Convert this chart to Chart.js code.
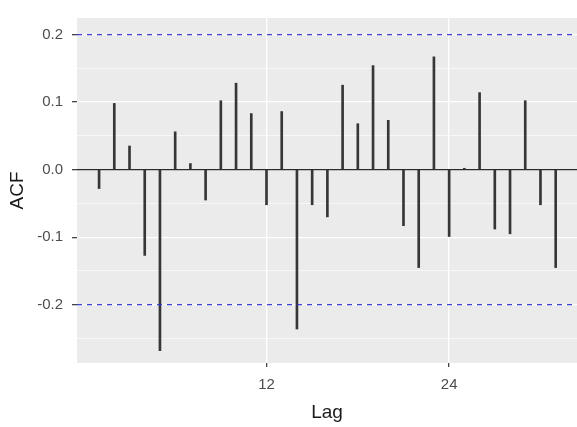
<!DOCTYPE html>
<html>
<head>
<meta charset="utf-8">
<script src="https://cdn.jsdelivr.net/npm/chart.js@4"></script>
<style>
  html, body { margin: 0; padding: 0; background: #ffffff; overflow: hidden; }
  #wrap { width: 577px; height: 427px; }
</style>
</head>
<body>
<div id="wrap"><canvas id="acfChart" width="577" height="427"></canvas></div>
<script>
// ACF values
const lags = [1, 2, 3, 4, 5, 6, 7, 8, 9, 10, 11, 12, 13, 14, 15, 16,
              17, 18, 19, 20, 21, 22, 23, 24, 25, 26, 27, 28, 29, 30, 31];
const acfValues = [-0.028, 0.098, 0.035, -0.127, -0.268, 0.056, 0.009, -0.045,
                   0.102, 0.128, 0.083, -0.052, 0.086, -0.236, -0.052, -0.070,
                   0.125, 0.068, 0.154, 0.073, -0.083, -0.145, 0.167, -0.099,
                   0.002, 0.114, -0.088, -0.095, 0.102, -0.052, -0.145];
const ciLimit = 0.2;

// axis ticks
const xTicks = [12, 24];
const xTickLabels = ["12", "24"];
const yMajor = [-0.2, -0.1, 0.0, 0.1, 0.2];
const yTickLabels = ["-0.2", "-0.1", "0.0", "0.1", "0.2"];
const yMinor = [-0.25, -0.15, -0.05, 0.05, 0.15];

const fontFamily = "'Liberation Sans', Arial, sans-serif";

function isMajor(v) {
    return yMajor.some(m => Math.abs(m - v) < 1e-9);
}

// grey panel behind the plot
const panelBackground = {
    id: "panelBackground",
    beforeDraw(chart) {
        const { ctx, chartArea } = chart;
        ctx.save();
        ctx.fillStyle = "#ffffff";
        ctx.fillRect(0, 0, chart.width, chart.height);
        ctx.fillStyle = "#ebebeb";
        ctx.fillRect(chartArea.left, chartArea.top, chartArea.right - chartArea.left, chartArea.bottom - chartArea.top);
        ctx.restore();
    }
};

// zero line and the dashed confidence bounds
const refLines = {
    id: "refLines",
    beforeDatasetsDraw(chart) {
        const { ctx, chartArea, scales } = chart;
        const y0 = scales.y.getPixelForValue(0);
        ctx.save();
        ctx.strokeStyle = "#2b2b2b";
        ctx.lineWidth = 1.3;
        ctx.beginPath();
        ctx.moveTo(chartArea.left, y0);
        ctx.lineTo(chartArea.right, y0);
        ctx.stroke();
        ctx.restore();
    },
    afterDatasetsDraw(chart) {
        const { ctx, chartArea, scales } = chart;
        ctx.save();
        ctx.strokeStyle = "rgba(45, 45, 210, 0.9)";
        ctx.lineWidth = 1.2;
        ctx.setLineDash([5, 5]);
        [ciLimit, -ciLimit].forEach(v => {
            const y = scales.y.getPixelForValue(v);
            ctx.beginPath();
            ctx.moveTo(chartArea.left, y);
            ctx.lineTo(chartArea.right, y);
            ctx.stroke();
        });
        ctx.restore();
    }
};

const ctx = document.getElementById("acfChart").getContext("2d");
const acfChart = new Chart(ctx, {
    type: "bar",
    data: {
        datasets: [{
            label: "ACF",
            data: lags.map((lag, i) => ({ x: lag, y: acfValues[i] })),
            backgroundColor: "#363636",
            borderWidth: 0,
            barThickness: 2,
            grouped: false
        }]
    },
    options: {
        responsive: false,
        animation: false,
        devicePixelRatio: 1,
        layout: { padding: { top: 8, right: 0, left: 0, bottom: 0 } },
        plugins: {
            legend: { display: false },
            tooltip: { enabled: false }
        },
        scales: {
            x: {
                type: "linear",
                min: -0.45,
                max: 32.4,
                offset: false,
                afterFit(axis) { axis.height = 64; },
                afterBuildTicks(axis) { axis.ticks = xTicks.map(v => ({ value: v })); },
                border: { display: false },
                grid: {
                    offset: false,
                    color: "#ffffff",
                    lineWidth: 1.3,
                    tickColor: "#444444",
                    tickLength: 4
                },
                ticks: {
                    autoSkip: false,
                    maxRotation: 0,
                    padding: 9,
                    color: "#4d4d4d",
                    font: { family: fontFamily, size: 15 },
                    callback: (value) => {
                        const i = xTicks.indexOf(value);
                        return i >= 0 ? xTickLabels[i] : "";
                    }
                },
                title: {
                    display: true,
                    text: "Lag",
                    color: "#1a1a1a",
                    font: { family: fontFamily, size: 19 },
                    padding: { top: 0, bottom: 3 }
                }
            },
            y: {
                type: "linear",
                min: -0.2863,
                max: 0.2245,
                afterFit(axis) { axis.width = 77; },
                afterBuildTicks(axis) {
                    axis.ticks = yMinor.concat(yMajor).sort((a, b) => a - b).map(v => ({ value: v }));
                },
                border: { display: false },
                grid: {
                    color: "#ffffff",
                    lineWidth: (c) => (c.tick && isMajor(c.tick.value) ? 1.3 : 0.6),
                    tickColor: (c) => (c.tick && isMajor(c.tick.value) ? "#444444" : "rgba(0,0,0,0)"),
                    tickLength: 5
                },
                ticks: {
                    autoSkip: false,
                    padding: 9,
                    color: "#4d4d4d",
                    font: { family: fontFamily, size: 15 },
                    callback: (value) => {
                        const i = yMajor.findIndex(m => Math.abs(m - value) < 1e-9);
                        return i >= 0 ? yTickLabels[i] : "";
                    }
                },
                title: {
                    display: true,
                    text: "ACF",
                    color: "#1a1a1a",
                    font: { family: fontFamily, size: 19 },
                    padding: { top: 6, bottom: 0 }
                }
            }
        }
    },
    plugins: [panelBackground, refLines]
});
</script>
</body>
</html>
